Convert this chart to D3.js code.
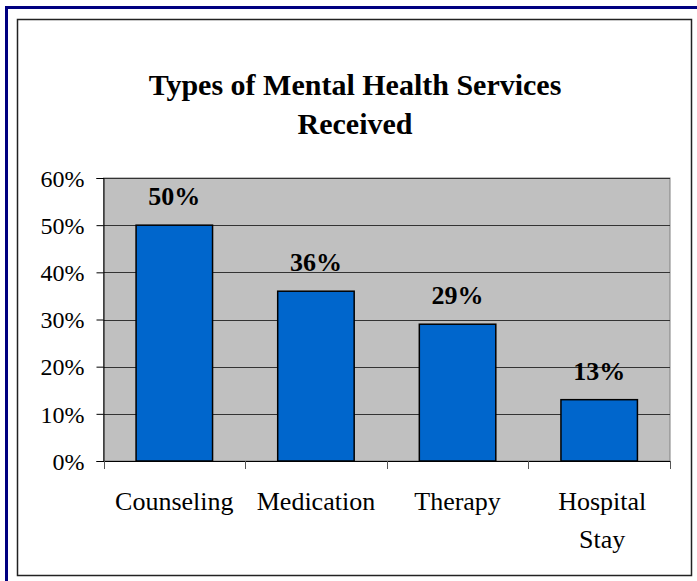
<!DOCTYPE html>
<html><head><meta charset="utf-8">
<script src="https://cdn.jsdelivr.net/npm/d3@7"></script>
<style>html,body{margin:0;padding:0;background:#fff;overflow:hidden}</style>
</head><body>
<script>
const categories = ["Counseling", "Medication", "Therapy", "Hospital Stay"];
const values = [50, 36, 29, 13];
const yTicks = [0, 10, 20, 30, 40, 50, 60];
const titleLines = ["Types of Mental Health Services", "Received"];

const W = 697, H = 581;
const svg = d3.select("body").append("svg").attr("width", W).attr("height", H);
const serif = "'Liberation Serif','Times New Roman',serif";

// frames
svg.append("rect").attr("x", 6.5).attr("y", 7.5).attr("width", 700).attr("height", 600)
  .attr("fill", "none").attr("stroke", "#000080").attr("stroke-width", 3);
svg.append("rect").attr("x", 17.5).attr("y", 19.5).attr("width", 674).attr("height", 556)
  .attr("fill", "#fff").attr("stroke", "#222").attr("stroke-width", 1.5);

const m = {left: 103.5, right: 670, top: 178, bottom: 461};
const x = d3.scaleBand().domain(categories).range([m.left, m.right]).paddingInner(0.46).paddingOuter(0.23);
const y = d3.scaleLinear().domain([0, 60]).range([m.bottom, m.top]);

const g = svg.append("g");
g.append("rect").attr("x", m.left).attr("y", m.top).attr("width", m.right - m.left).attr("height", m.bottom - m.top)
  .attr("fill", "#C0C0C0").attr("stroke", "#808080").attr("stroke-width", 1);

// gridlines
g.selectAll(".grid").data(yTicks.slice(1)).enter().append("line")
  .attr("x1", m.left).attr("x2", m.right)
  .attr("y1", d => Math.round(y(d)) + 0.5).attr("y2", d => Math.round(y(d)) + 0.5)
  .attr("stroke", "#333").attr("stroke-width", 1);

// y axis
const yAxis = d3.axisLeft(y).tickValues(yTicks).tickFormat(d => d + "%").tickSize(7).tickPadding(12);
const ya = svg.append("g").attr("transform", `translate(${m.left},0)`).call(yAxis);
ya.select(".domain").attr("stroke", "#000");
ya.selectAll(".tick line").attr("stroke", "#000");
ya.selectAll("text").attr("font-family", serif).attr("font-size", 24).attr("fill", "#000").attr("dy", "0.34em");

// x axis ticks at band boundaries
const bounds = [m.left].concat(categories.map((c, i) => m.left + (i + 1) * x.step()));
svg.append("line").attr("x1", m.left).attr("x2", m.right).attr("y1", m.bottom + 0.5).attr("y2", m.bottom + 0.5).attr("stroke", "#000");
svg.selectAll(".xt").data(bounds).enter().append("line")
  .attr("x1", d => Math.round(d) + 0.5).attr("x2", d => Math.round(d) + 0.5)
  .attr("y1", m.bottom).attr("y2", m.bottom + 8).attr("stroke", "#555");

// bars
svg.selectAll(".bar").data(values).enter().append("rect")
  .attr("x", (d, i) => x(categories[i])).attr("width", x.bandwidth())
  .attr("y", d => y(d)).attr("height", d => y(0) - y(d))
  .attr("fill", "#0066CC").attr("stroke", "#000").attr("stroke-width", 1.5);

// value labels
svg.selectAll(".val").data(values).enter().append("text")
  .attr("x", (d, i) => x(categories[i]) + x.bandwidth() / 2)
  .attr("y", d => y(d) - 20)
  .attr("text-anchor", "middle").attr("font-family", serif).attr("font-weight", "bold").attr("font-size", 26)
  .text(d => d + "%");

// category labels
categories.forEach((c, i) => {
  const cx = x(c) + x.bandwidth() / 2 + (i === 3 ? 3 : 0);
  const words = c === "Hospital Stay" ? ["Hospital", "Stay"] : [c];
  words.forEach((w, j) => {
    svg.append("text").attr("x", cx).attr("y", 510 + j * 38)
      .attr("text-anchor", "middle").attr("font-family", serif).attr("font-size", 26).text(w);
  });
});

// title
titleLines.forEach((t, i) => {
  svg.append("text").attr("x", 355).attr("y", 95 + i * 39)
    .attr("text-anchor", "middle").attr("font-family", serif).attr("font-weight", "bold").attr("font-size", 30).text(t);
});
</script>
</body></html>
